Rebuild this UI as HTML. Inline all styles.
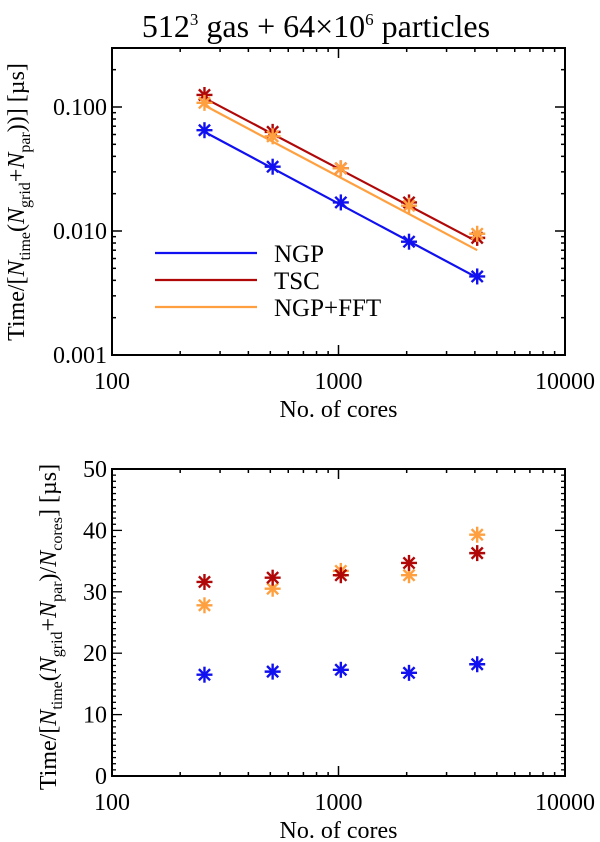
<!DOCTYPE html>
<html><head><meta charset="utf-8"><style>
body{margin:0;background:#fff}
svg{display:block;font-family:"Liberation Serif",serif}
</style></head><body>
<svg id="c" width="600" height="842" viewBox="0 0 600 842">
<text x="316" y="37" font-size="32" text-anchor="middle">512<tspan dy="-12" font-size="17">3</tspan><tspan dy="12"> gas + 64×10</tspan><tspan dy="-12" font-size="17">6</tspan><tspan dy="12"> particles</tspan></text>
</svg>
<script>
const cores=[256,512,1024,2048,4096];
const ngpTop=[0.065,0.033,0.017,0.0082,0.0043];
const tscTop=[0.125,0.063,0.032,0.017,0.0088];
const fftTop=[0.108,0.058,0.032,0.016,0.0095];
const ngpFit=[0.063,0.0042];
const tscFit=[0.118,0.0082];
const fftFit=[0.103,0.0070];
const ngpBot=[16.5,17.0,17.3,16.8,18.2];
const tscBot=[31.6,32.3,32.7,34.7,36.3];
const fftBot=[27.8,30.5,33.4,32.7,39.3];
const topYTicks=["0.001","0.010","0.100"];
const botYTicks=["0","10","20","30","40","50"];
const xTicks=["100","1000","10000"];
const seriesNames=["NGP","TSC","NGP+FFT"];
const colors=["#1010f0","#b00808","#ffa040"];

const svg=document.getElementById('c');
const NS="http://www.w3.org/2000/svg";
function el(t,a,p){const e=document.createElementNS(NS,t);for(const k in a)e.setAttribute(k,a[k]);(p||svg).appendChild(e);return e;}
const L=112,R=565;
function xs(v){return L+(Math.log10(v)-2)/2*(R-L);}
const T1=48,B1=355;
function y1(v){return 355+(Math.log10(v)+3)*(-124);}
const T2=469,B2=776;
function y2(v){return B2-v*(B2-T2)/50;}

function frame(T,B,name){
  const f=el('rect',{x:L,y:T,width:R-L,height:B-T,fill:'none',stroke:'#000','stroke-width':2});
  
  
  for(let e=2;e<4;e++)for(let m=1;m<10;m++){
    const v=m*Math.pow(10,e);const x=xs(v);const len=m==1?10:4;
    el('line',{x1:x,y1:B,x2:x,y2:B-len,stroke:'#000','stroke-width':1.5});
    el('line',{x1:x,y1:T,x2:x,y2:T+len,stroke:'#000','stroke-width':1.5});
  }
  xTicks.forEach(t=>{const x=xs(+t);const tx=el('text',{x:x,y:B+34,'font-size':24,'text-anchor':'middle'});tx.textContent=t;
    });
  const xt=el('text',{x:(L+R)/2,y:B+62,'font-size':24,'text-anchor':'middle'});xt.textContent='No. of cores';
  
}
function star(x,y,c){
  const g=el('g',{stroke:c,'stroke-width':2.4});
  
  
  const r=8;
  [[0,1],[1,0],[0.7,0.7],[0.7,-0.7]].forEach(([a,b])=>el('line',{x1:x-a*r,y1:y-b*r,x2:x+a*r,y2:y+b*r},g));
}
frame(T1,B1,'top-panel');
for(let e=-3;e<0;e++)for(let m=1;m<10;m++){
  const v=m*Math.pow(10,e);const y=y1(v);if(y<T1-0.5||y>B1+0.5)continue;const len=m==1?10:4;
  el('line',{x1:L,y1:y,x2:L+len,y2:y,stroke:'#000','stroke-width':1.5});
  el('line',{x1:R,y1:y,x2:R-len,y2:y,stroke:'#000','stroke-width':1.5});
}
topYTicks.forEach(t=>{const tx=el('text',{x:L-5,y:y1(+t)+8,'font-size':24,'text-anchor':'end'});tx.textContent=t;
  });
function ytitle(cx,cy,last){
  const tx=el('text',{'font-size':24,'text-anchor':'middle',transform:`translate(${cx},${cy}) rotate(-90)`});
  tx.innerHTML='Time/[<tspan font-style="italic">N</tspan><tspan font-size="16" dy="6">time</tspan><tspan dy="-6">(</tspan><tspan font-style="italic">N</tspan><tspan font-size="16" dy="6">grid</tspan><tspan dy="-6">+</tspan><tspan font-style="italic">N</tspan><tspan font-size="16" dy="6">par</tspan><tspan dy="-6">)</tspan>'+last;
  
}
ytitle(24,202,')] [µs]');
const tops=[ngpTop,tscTop,fftTop],fits=[ngpFit,tscFit,fftFit];
[1,2,0].forEach(i=>{
  const ln=el('line',{x1:xs(cores[0]),y1:y1(fits[i][0]),x2:xs(cores[4]),y2:y1(fits[i][1]),stroke:colors[i],'stroke-width':2.2});
  
  
});
[0,1,2].forEach(i=>tops[i].forEach((v,j)=>star(xs(cores[j]),y1(v),colors[i])));
seriesNames.forEach((n,i)=>{
  const y=253+i*27;
  const ln=el('line',{x1:155,y1:y,x2:257,y2:y,stroke:colors[i],'stroke-width':2.2});
  
  const tx=el('text',{x:274,y:y+9,'font-size':25});tx.textContent=n;
  
});
frame(T2,B2,'bottom-panel');
for(let v=0;v<=50;v+=1){const y=y2(v);const len=v%10==0?10:4;
  el('line',{x1:L,y1:y,x2:L+len,y2:y,stroke:'#000','stroke-width':1.3});
  el('line',{x1:R,y1:y,x2:R-len,y2:y,stroke:'#000','stroke-width':1.3});}
botYTicks.forEach(t=>{const tx=el('text',{x:L-5,y:y2(+t)+8,'font-size':24,'text-anchor':'end'});tx.textContent=t;
  });
ytitle(56,627,'/<tspan font-style="italic">N</tspan><tspan font-size="16" dy="6">cores</tspan><tspan dy="-6">] [µs]</tspan>');
const bots=[ngpBot,tscBot,fftBot];
[0,2,1].forEach(i=>bots[i].forEach((v,j)=>star(xs(cores[j]),y2(v),colors[i])));
</script>
</body></html>
